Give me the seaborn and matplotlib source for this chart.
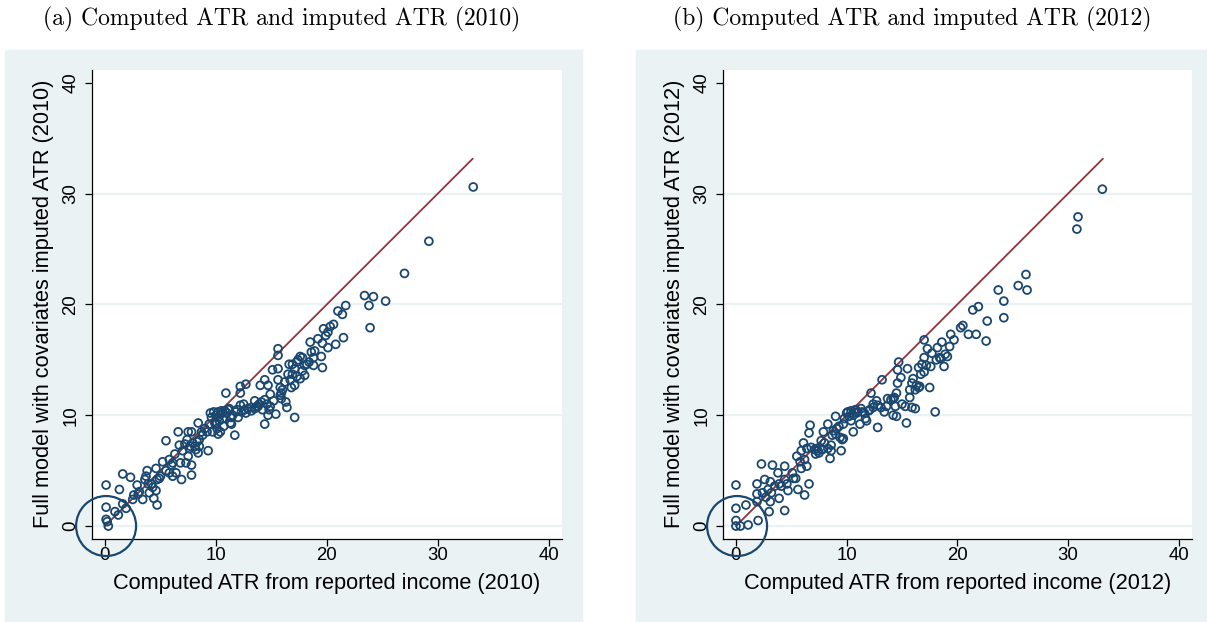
import matplotlib
matplotlib.use("Agg")
import matplotlib.pyplot as plt
from matplotlib.patches import Rectangle
import seaborn as sns
import pandas as pd

NAVY = "#1a476f"
MAROON = "#90353b"
BG = "#eaf2f3"

titles = ["(a) Computed ATR and imputed ATR (2010)",
          "(b) Computed ATR and imputed ATR (2012)"]
xlabels = ["Computed ATR from reported income (2010)",
           "Computed ATR from reported income (2012)"]
ylabels = ["Full model with covariates imputed ATR (2010)",
           "Full model with covariates imputed ATR (2012)"]
ticks = [0, 10, 20, 30, 40]
grid_ticks = [0, 10, 20, 30]
line_x = [0, 33.15]

# panel (a) 2010: computed ATR vs imputed ATR
atr_2010 = [
    (33.2, 30.6), (29.2, 25.7), (27.0, 22.8), (25.3, 20.3), (23.4, 20.8), (24.2, 20.7),
    (23.8, 19.9), (23.9, 17.9), (21.7, 19.9), (21.0, 19.4), (21.4, 19.1), (21.5, 17.0),
    (20.8, 16.4), (20.6, 18.2), (20.3, 18.0), (20.1, 17.5), (19.7, 17.8), (19.9, 17.2),
    (19.6, 16.5), (20.1, 16.1), (19.5, 15.3), (19.6, 14.3), (19.2, 16.9), (18.9, 15.8),
    (18.5, 16.6), (18.6, 15.7), (18.8, 15.2), (18.8, 14.5), (18.4, 14.8), (18.0, 14.5),
    (17.8, 15.2), (17.6, 15.3), (17.3, 14.8), (17.1, 14.2), (16.9, 13.7), (18.0, 13.6),
    (17.6, 13.3), (17.1, 12.7), (17.1, 9.8), (16.8, 12.5), (16.5, 13.7), (16.6, 14.6),
    (15.6, 16.0), (15.6, 15.4), (15.6, 14.2), (15.1, 14.1), (15.6, 13.2), (15.8, 12.5),
    (15.9, 12.0), (15.9, 11.5), (16.3, 11.2), (16.4, 10.7), (15.4, 10.1), (14.7, 10.0),
    (14.4, 9.2), (14.9, 10.8), (14.4, 13.2), (14.0, 12.7), (14.7, 12.7), (14.9, 11.9),
    (14.4, 11.4), (13.9, 11.0), (14.2, 10.5), (13.7, 10.8), (13.2, 10.7), (12.7, 10.2),
    (12.7, 12.8), (12.2, 12.6), (12.2, 12.0), (10.9, 12.0), (12.5, 11.0), (11.9, 10.5),
    (11.4, 9.8), (11.7, 8.2), (11.4, 9.2), (11.1, 10.5), (10.6, 10.2), (10.2, 9.8),
    (10.0, 9.2), (10.2, 8.3), (9.7, 8.5), (9.5, 10.2), (9.4, 9.2), (9.2, 8.5),
    (9.3, 6.8), (8.7, 8.5), (8.4, 9.3), (8.5, 7.8), (8.5, 7.2), (8.4, 6.6),
    (7.8, 8.5), (7.5, 8.5), (7.4, 7.8), (7.7, 7.2), (7.5, 6.3), (7.8, 5.5),
    (7.8, 4.6), (7.3, 5.7), (6.6, 8.5), (6.7, 7.3), (6.8, 5.7), (6.9, 4.2),
    (6.3, 6.5), (6.1, 5.7), (6.4, 4.8), (6.1, 4.5), (5.8, 4.8), (5.5, 7.7),
    (5.2, 5.8), (5.8, 6.0), (5.0, 4.5), (4.6, 5.2), (4.7, 4.2), (4.6, 3.2),
    (4.4, 2.5), (4.7, 1.9), (4.2, 3.8), (3.8, 5.0), (3.7, 4.5), (3.9, 3.8),
    (3.4, 2.4), (2.9, 3.7), (3.1, 3.1), (2.5, 2.4), (2.3, 4.4), (1.6, 4.7),
    (1.3, 3.3), (1.6, 2.0), (1.9, 1.6), (0.9, 1.3), (1.2, 1.0), (0.1, 3.7),
    (0.1, 1.7), (0.1, 0.6), (0.2, 0.4), (0.3, 0.0),
    (9.6, 9.8), (9.8, 10.3), (10.0, 10.0), (10.2, 10.3), (10.3, 9.5), (10.4, 10.1),
    (10.5, 10.4), (10.6, 9.7), (10.8, 10.4), (11.0, 10.2), (11.2, 10.6), (11.5, 10.0),
    (11.8, 10.3), (12.0, 9.8), (12.3, 10.3), (12.6, 10.5), (12.9, 10.6), (13.2, 10.4),
    (13.5, 10.6), (13.8, 10.8), (14.1, 11.2), (14.6, 11.0), (9.9, 9.3), (10.1, 8.8),
    (10.4, 8.5), (9.0, 8.8), (8.8, 8.2), (8.3, 7.6), (8.1, 7.2), (7.9, 7.5),
    (8.2, 6.9), (7.6, 7.0), (7.0, 6.8), (7.2, 7.4), (16.0, 12.3), (15.8, 11.8),
    (16.2, 13.0), (16.7, 13.2), (17.3, 13.5), (17.8, 14.0), (18.2, 14.6), (16.9, 14.6),
    (17.4, 15.0), (15.2, 11.3), (14.8, 10.5), (13.5, 11.3), (12.2, 10.9), (11.3, 9.3),
    (10.7, 9.0), (3.6, 4.2), (4.0, 3.0), (4.3, 3.5), (4.9, 4.3), (5.5, 5.0),
    (6.0, 5.5), (2.6, 2.8), (3.0, 2.9),
]

# panel (b) 2012
atr_2012 = [
    (33.1, 30.4), (30.9, 27.9), (30.8, 26.8), (26.2, 22.7), (25.5, 21.7), (26.3, 21.3),
    (23.7, 21.3), (24.2, 20.3), (24.2, 18.8), (22.7, 18.5), (22.6, 16.7), (21.9, 19.8),
    (21.4, 19.5), (21.7, 17.3), (21.0, 17.3), (20.5, 18.1), (20.3, 17.9), (19.7, 16.8),
    (19.4, 17.3), (19.3, 16.2), (19.1, 15.3), (18.6, 16.6), (18.8, 14.4), (18.4, 15.2),
    (18.0, 10.3), (17.5, 12.5), (18.2, 16.1), (17.7, 15.6), (17.3, 16.0), (17.0, 16.8),
    (17.0, 15.2), (17.2, 14.5), (16.7, 13.7), (16.5, 14.3), (16.0, 13.3), (16.5, 12.5),
    (16.2, 12.3), (15.7, 12.3), (16.2, 10.6), (15.9, 10.7), (15.3, 10.8), (15.4, 9.3),
    (15.7, 11.6), (15.5, 14.2), (14.9, 13.4), (14.7, 14.8), (14.6, 14.1), (14.6, 12.9),
    (14.5, 12.0), (14.2, 11.5), (13.7, 11.5), (14.4, 10.8), (14.5, 9.9), (14.2, 10.0),
    (13.2, 13.2), (13.4, 10.3), (12.8, 8.9), (12.7, 11.3), (12.2, 12.0), (12.4, 11.0),
    (12.1, 10.5), (11.7, 9.7), (11.2, 9.2), (11.4, 10.3), (10.9, 10.2), (10.6, 8.5),
    (10.4, 9.5), (10.1, 10.3), (9.7, 9.2), (9.6, 7.8), (9.5, 6.8), (9.0, 9.9),
    (9.1, 8.8), (8.7, 8.2), (8.6, 6.8), (8.5, 6.1), (8.3, 9.2), (7.9, 8.5),
    (7.7, 7.7), (7.4, 6.8), (7.2, 6.5), (6.7, 9.1), (6.6, 8.4), (6.1, 7.5),
    (6.6, 3.8), (6.4, 5.4), (6.2, 2.8), (5.9, 5.2), (5.9, 6.8), (5.5, 6.3),
    (5.6, 3.3), (5.4, 4.3), (5.1, 4.8), (4.7, 3.2), (4.4, 4.2), (4.4, 5.4),
    (4.4, 1.4), (3.8, 4.8), (3.9, 3.8), (3.9, 2.5), (3.3, 5.5), (3.1, 4.0),
    (2.9, 3.3), (3.1, 2.2), (3.0, 1.3), (2.6, 4.2), (2.4, 3.0), (2.3, 5.6),
    (1.9, 3.8), (1.9, 2.9), (1.9, 2.2), (2.0, 0.5), (0.9, 1.9), (1.1, 0.1),
    (0.0, 3.7), (0.0, 1.6), (0.0, 0.5), (0.0, 0.0), (0.4, 0.0),
    (9.8, 9.7), (10.0, 10.2), (10.2, 9.9), (10.4, 10.4), (10.6, 10.0), (10.8, 10.5),
    (11.0, 10.3), (11.3, 10.6), (11.6, 10.2), (12.0, 10.4), (12.4, 10.7), (12.8, 10.9),
    (13.1, 10.7), (13.6, 10.8), (14.0, 11.4), (14.3, 11.6), (9.3, 9.0), (9.0, 8.3),
    (8.8, 8.6), (9.4, 8.0), (9.7, 7.9), (8.0, 7.5), (7.8, 6.9), (7.5, 6.6),
    (7.3, 7.0), (7.1, 6.9), (8.3, 7.0), (8.6, 7.3), (6.8, 7.1), (16.3, 12.7),
    (16.6, 12.6), (17.0, 13.9), (17.6, 14.4), (18.1, 15.0), (18.5, 15.1), (18.9, 15.5),
    (16.8, 14.6), (15.9, 12.9), (15.0, 11.0), (5.2, 4.3), (4.6, 3.8), (4.1, 3.6),
    (3.5, 3.6), (3.2, 3.0), (2.7, 2.6), (5.8, 5.8), (6.2, 6.0), (6.4, 7.0),
    (11.8, 9.5),
]

W, H = 1207, 622
fig = plt.figure(figsize=(W / 100, H / 100), dpi=100)
sns.set_style("white")
plt.rcParams["font.family"] = ["Liberation Sans", "DejaVu Sans"]
plt.rcParams["text.color"] = "black"
plt.rcParams["axes.labelcolor"] = "black"

panel_bg = [(5, 582), (636, 1207)]
axes_px = [(92, 562), (723, 1192)]
title_x = [282, 912]
ax_top, ax_bot = 69.5, 539

for i, data in enumerate([atr_2010, atr_2012]):
    x0, x1 = panel_bg[i]
    fig.patches.append(Rectangle((x0 / W, 0), (x1 - x0) / W, (H - 49.5) / H,
                                 transform=fig.transFigure, color=BG, zorder=-5))
    l, r = axes_px[i]
    ax = fig.add_axes([l / W, (H - ax_bot) / H, (r - l) / W, (ax_bot - ax_top) / H])
    ax.set_facecolor("white")

    df = pd.DataFrame(data, columns=["computed", "imputed"])
    for g in grid_ticks:
        ax.axhline(g, color=BG, lw=1.6, zorder=0)
    sns.lineplot(x=line_x, y=line_x, color=MAROON, lw=1.3, ax=ax, zorder=2)
    sns.scatterplot(data=df, x="computed", y="imputed", ax=ax, s=32,
                    facecolor="none", edgecolor=NAVY, linewidth=1.3, zorder=3)
    # highlight circle around the origin
    ax.scatter([0.1], [0], s=1866, facecolor="none", edgecolor=NAVY,
               linewidth=1.6, clip_on=False, zorder=5)

    ax.set_xlim(-1.17, 41.2)
    ax.set_ylim(-1.17, 41.2)
    ax.set_xticks(ticks)
    ax.set_yticks(ticks)
    for sp in ["top", "right"]:
        ax.spines[sp].set_visible(False)
    for sp in ["left", "bottom"]:
        ax.spines[sp].set_color("black")
        ax.spines[sp].set_linewidth(0.9)
    ax.tick_params(axis="both", direction="out", length=5, width=0.9,
                   color="black", labelcolor="black", labelsize=13.4,
                   left=True, bottom=True)
    ax.tick_params(axis="x", pad=1)
    ax.tick_params(axis="y", pad=4)
    for lab in ax.get_yticklabels():
        lab.set_rotation(90)
        lab.set_va("center")
    ax.set_xlabel(xlabels[i], fontsize=15.7, labelpad=6, color="black")
    ax.set_ylabel(ylabels[i], fontsize=15.7, labelpad=6, color="black")

    fig.text(title_x[i] / W, 1 - 25 / H, titles[i], family="cmr10",
             fontsize=17, ha="center", va="baseline", color="black")

fig.savefig("out.png", dpi=100)
